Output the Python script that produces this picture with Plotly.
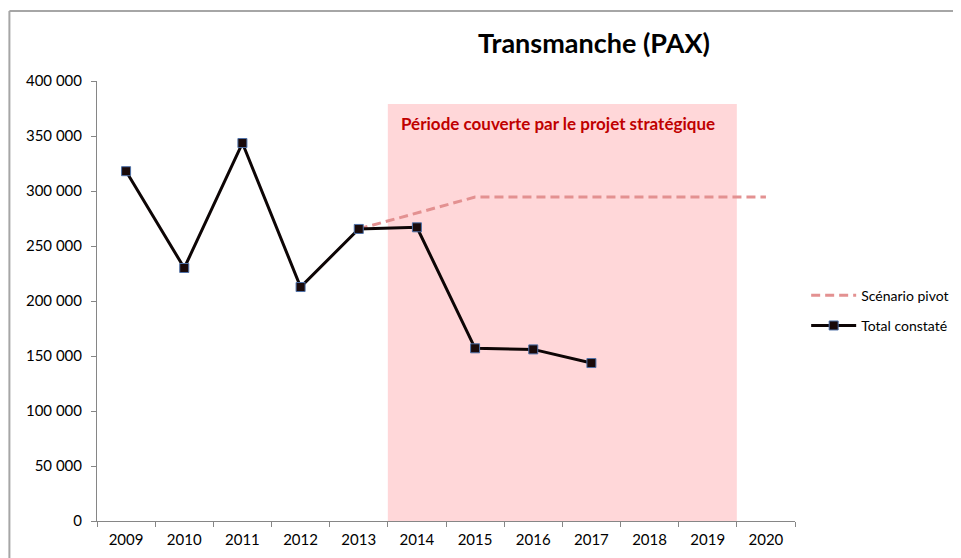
import plotly.graph_objects as go

years = ["2009", "2010", "2011", "2012", "2013", "2014", "2015", "2016", "2017", "2018", "2019", "2020"]
total_constate = [318000, 230000, 343600, 212700, 265500, 267000, 157000, 156000, 143600, None, None, None]
scenario_pivot = [None, None, None, None, 265500, 280000, 294500, 294500, 294500, 294500, 294500, 294500]
periode_start = 4.5   # boundary between 2013 and 2014
periode_end = 10.5    # boundary between 2019 and 2020
periode_top = 379000
periode_label = "Période couverte par le projet stratégique"
title_text = "Transmanche (PAX)"

FONT = "Lato, 'Open Sans', sans-serif"

fig = go.Figure()

fig.add_trace(go.Scatter(
    x=years, y=scenario_pivot, name="Scénario pivot", mode="lines",
    line=dict(color="#E39191", width=3, dash="9px,5px"),
    legendgroup="a", connectgaps=False,
))
fig.add_trace(go.Scatter(
    x=years, y=total_constate, name="Total constaté", mode="lines+markers",
    line=dict(color="#0D0505", width=3),
    marker=dict(symbol="square", size=9, color="#1A0A0A", line=dict(color="#4F71A8", width=1)),
    legendgroup="b", connectgaps=False,
))

fig.add_shape(type="rect", xref="x", yref="y", x0=periode_start, x1=periode_end,
              y0=0, y1=periode_top, fillcolor="#FFD7D9", line=dict(width=0), layer="below")

fig.add_annotation(xref="x", yref="y", x=periode_start, y=361000, xanchor="left", yanchor="middle",
                   xshift=11, text=f"<b>{periode_label}</b>", showarrow=False,
                   font=dict(family=FONT, size=17, color="#C00000"))

# chart frame (spreadsheet object border)
fig.add_shape(type="line", xref="paper", yref="paper", x0=-0.1255, x1=1.25, y0=1.159, y1=1.159,
              line=dict(color="#A6A6A6", width=2))
fig.add_shape(type="line", xref="paper", yref="paper", x0=-0.1255, x1=-0.1255, y0=1.159, y1=-0.1,
              line=dict(color="#A6A6A6", width=2))

fig.update_layout(
    width=953, height=550,
    margin=dict(l=89, r=166, t=73, b=37, autoexpand=False),
    paper_bgcolor="white", plot_bgcolor="white",
    separators=", ",
    font=dict(family=FONT, size=15, color="#000000"),
    title=dict(text=f"<b>{title_text}</b>", x=586 / 953, xref="container", xanchor="center",
               y=1 - 36 / 550, yref="container", yanchor="middle",
               font=dict(family=FONT, size=27, color="#000000")),
    legend=dict(x=1.016, xanchor="left", y=0.478, yanchor="middle",
                font=dict(family=FONT, size=14, color="#000000"),
                itemwidth=45, tracegroupgap=9, bgcolor="rgba(0,0,0,0)"),
    xaxis=dict(type="category", categoryorder="array", categoryarray=years,
               range=[-0.5, 11.5], tickson="boundaries", ticks="outside", ticklen=5,
               tickcolor="#868686", showline=True, linecolor="#868686", linewidth=1,
               showgrid=False, zeroline=False, ticklabelstandoff=5, automargin=False,
               tickfont=dict(family=FONT, size=15)),
    yaxis=dict(range=[0, 400000], dtick=50000, tickformat=",.0f", ticks="outside", ticklen=5,
               tickcolor="#868686", showline=True, linecolor="#868686", linewidth=1,
               showgrid=False, zeroline=False, ticklabelstandoff=6, automargin=False,
               tickfont=dict(family=FONT, size=15)),
)

fig.write_html("out.html")
